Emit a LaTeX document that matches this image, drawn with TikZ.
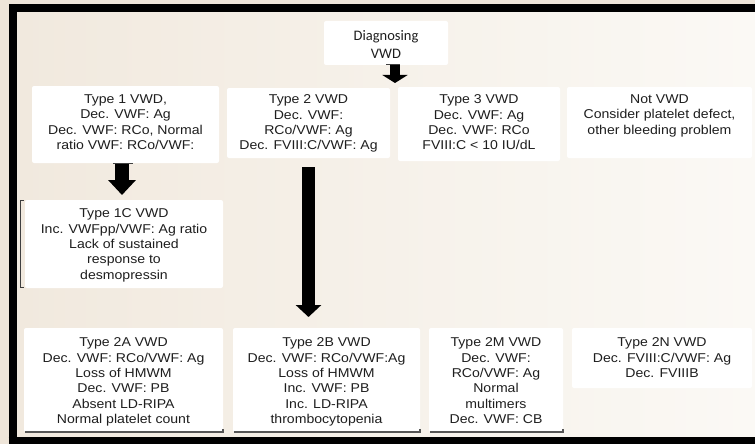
\documentclass[tikz,border=0pt]{standalone}
\usepackage{fontspec}
\setmainfont{Liberation Sans}[FakeStretch=1.1]
\newfontfamily\calib{Carlito}
\usetikzlibrary{arrows.meta}
\definecolor{outerbg}{HTML}{EEE5D9}
\definecolor{innerL}{HTML}{F1E9DE}
\definecolor{innerR}{HTML}{FBF9F5}
\definecolor{txtc}{HTML}{1E1E1E}
\definecolor{botline}{HTML}{555555}
\begin{document}
\begin{tikzpicture}[x=1pt,y=-1pt,
  box/.style={fill=white, draw=none, rounded corners=2pt, anchor=north west, inner sep=0pt, outer sep=0pt},
  txt/.style={anchor=north, align=center, inner sep=0pt, font=\fontsize{12.8}{15.4}\selectfont, text=txtc},
  blockarrow/.style n args={3}{line width=#1, -{Triangle[length=#2,width=#3]}, black},
  underline/.style={line width=1.2pt, draw=botline},
  tick/.style={line width=1pt, draw=black!75}]
\useasboundingbox (0,0) rectangle (755,444);
\clip (0,0) rectangle (755,444);
\fill[outerbg] (0,0) rectangle (755,444);
\shade[left color=innerL, right color=innerR] (16,12) rectangle (755,437);
\draw[line width=8pt] (12.5,470) -- (12.5,8) -- (780,8);
\draw[line width=8pt] (8.5,441) -- (780,441);

% boxes
\node[box, minimum width=124pt, minimum height=44pt] (diag) at (324,21) {};
\node[box, minimum width=187pt, minimum height=77pt] (t1) at (32,86) {};
\node[box, minimum width=163pt, minimum height=70pt] (t2) at (227,88) {};
\node[box, minimum width=162pt, minimum height=74pt] (t3) at (398,87) {};
\node[box, minimum width=185pt, minimum height=71pt] (nv) at (567,87) {};
\node[box, minimum width=198pt, minimum height=88pt] (t1c) at (25,200) {};
\node[box, minimum width=199pt, minimum height=104pt] (t2a) at (24,328) {};
\node[box, minimum width=187pt, minimum height=104pt] (t2b) at (233,328) {};
\node[box, minimum width=134pt, minimum height=104pt] (t2m) at (429,328) {};
\node[box, minimum width=180pt, minimum height=60pt] (t2n) at (572,328) {};

% texts
\node[txt, font=\calib\fontsize{14.5}{18}\selectfont] (diagx) at (386,30) {Diagnosing\\VWD};
\node[txt] (t1x) at (125.5,94.5) {Type 1 VWD,\\Dec. VWF: Ag\\Dec. VWF: RCo, Normal\\ratio VWF: RCo/VWF:};
\node[txt] (t2x) at (308.5,94.5) {Type 2 VWD\\Dec. VWF:\\RCo/VWF: Ag\\Dec. FVIII:C/VWF: Ag};
\node[txt] (t3x) at (479,94.5) {Type 3 VWD\\Dec. VWF: Ag\\Dec. VWF: RCo\\FVIII:C < 10 IU/dL};
\node[txt] (nvx) at (659.5,94.5) {Not VWD\\Consider platelet defect,\\other bleeding problem};
\node[txt] (t1cx) at (124,208.5) {Type 1C VWD\\Inc. VWFpp/VWF: Ag ratio\\Lack of sustained\\response to\\desmopressin};
\node[txt] (t2ax) at (123.5,337.5) {Type 2A VWD\\Dec. VWF: RCo/VWF: Ag\\Loss of HMWM\\Dec. VWF: PB\\Absent LD-RIPA\\Normal platelet count};
\node[txt] (t2bx) at (326.5,337.5) {Type 2B VWD\\Dec. VWF: RCo/VWF:Ag\\Loss of HMWM\\Inc. VWF: PB\\Inc. LD-RIPA\\thrombocytopenia};
\node[txt] (t2mx) at (496,337.5) {Type 2M VWD\\Dec. VWF:\\RCo/VWF: Ag\\Normal\\multimers\\Dec. VWF: CB};
\node[txt] (t2nx) at (662,337.5) {Type 2N VWD\\Dec. FVIII:C/VWF: Ag\\Dec. FVIIIB};

% underlines and bracket
\draw[underline] ([xshift=1pt]t2a.south west) -- (t2a.south east) -- ++(0,-3);
\draw[underline] ([xshift=1pt]t2b.south west) -- (t2b.south east) -- ++(0,-3);
\draw[underline] ([xshift=1pt]t2m.south west) -- (t2m.south east) -- ++(0,-3);
\draw[tick] ([xshift=-1.5pt]t1c.north west) -- ++(-3,0) -- ([xshift=-4.5pt,yshift=1pt]t1c.south west) -- ++(3,0);

% arrows
\coordinate (a0) at (395,65);
\coordinate (a1) at (122,163);
\coordinate (a2) at (308.5,158);
\draw[blockarrow={10pt}{8pt}{25pt}, shorten >=4pt] (a0) -- (a0 |- t3.north);
\draw[blockarrow={14pt}{15pt}{27pt}, shorten >=5pt] (a1) -- (a1 |- t1c.north);
\draw[blockarrow={13pt}{12pt}{25pt}, shorten <=9pt, shorten >=11pt] (a2) -- (a2 |- t2b.north);
\draw[tick] ([xshift=-9pt]a0) -- ([xshift=5pt]a0);
\draw[tick] ([xshift=-9pt]a1) -- ([xshift=11pt]a1);
\end{tikzpicture}
\end{document}
